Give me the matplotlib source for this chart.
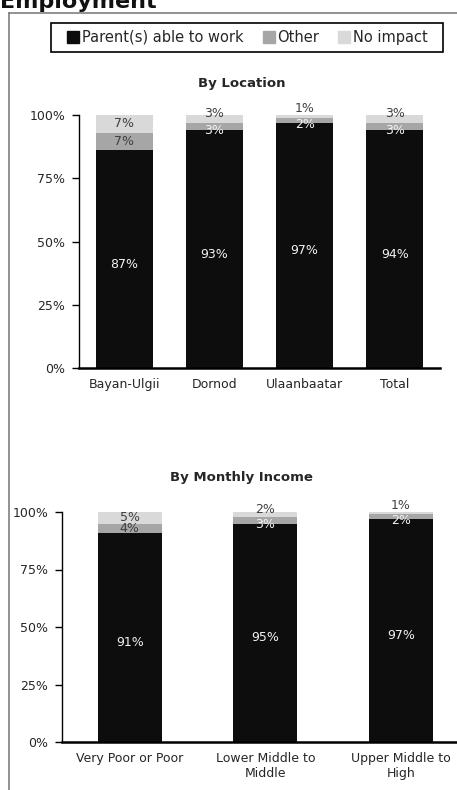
import numpy as np
import matplotlib
matplotlib.use("Agg")
import matplotlib.pyplot as plt
from matplotlib.lines import Line2D
from matplotlib.patches import Rectangle

plt.rcParams['font.family'] = ['DejaVu Sans']

# data (as printed in the chart; bars are drawn as 100% stacked)
loc_cats = ['Bayan-Ulgii', 'Dornod', 'Ulaanbaatar', 'Total']
loc_work = [87, 93, 97, 94]
loc_other = [7, 3, 2, 3]
loc_none = [7, 3, 1, 3]

inc_cats = ['Very Poor or Poor', 'Lower Middle to\nMiddle', 'Upper Middle to\nHigh']
inc_work = [91, 95, 97]
inc_other = [4, 3, 2]
inc_none = [5, 2, 1]

series_names = ['Parent(s) able to work', 'Other', 'No impact']
colors = ['#0d0d0d', '#a6a6a6', '#d9d9d9']
W, H = 457, 790


def stacked(ax, cats, work, other, none, width):
    x = np.arange(len(cats))
    vals = np.array([work, other, none], dtype=float)
    share = vals / vals.sum(axis=0)
    bottom = np.zeros(len(cats))
    for i in range(3):
        ax.bar(x, share[i], width, bottom=bottom, color=colors[i], linewidth=0)
        for j in range(len(cats)):
            v = vals[i, j]
            yc = bottom[j] + share[i, j] / 2
            # small segments: labels pushed apart like Excel does
            if i == 0:
                c, off = '#f2f2f2', -5
            elif i == 1:
                c = '#404040' if v >= 4 else '#f2f2f2'
                off = -4 if v < 4 else 0
            else:
                c = '#404040'
                off = 0 if v >= 4 else (5 if v > 1 else 8)
            ax.annotate('%d%%' % v, (x[j], yc), xytext=(0, off), textcoords='offset pixels',
                        ha='center', va='center', fontsize=9, color=c)
        bottom += share[i]
    ax.set_ylim(0, 1)
    ax.set_xlim(-0.5, len(cats) - 0.5)
    ax.set_yticks([0, 0.25, 0.5, 0.75, 1.0])
    ax.set_yticklabels(['0%', '25%', '50%', '75%', '100%'], fontsize=9, color='#262626')
    ax.set_xticks(x)
    ax.set_xticklabels(cats, fontsize=9, color='#262626')
    ax.tick_params(axis='x', length=0, pad=7)
    ax.tick_params(axis='y', length=5, width=1, pad=5, direction='out')
    for s in ['top', 'right']:
        ax.spines[s].set_visible(False)
    ax.spines['left'].set_linewidth(1.0)
    ax.spines['bottom'].set_linewidth(1.8)


fig = plt.figure(figsize=(W / 100, H / 100), dpi=100)

ax1 = fig.add_axes([79 / W, 1 - 368 / H, 361 / W, 253 / H])
stacked(ax1, loc_cats, loc_work, loc_other, loc_none, 57 / 90)

ax2 = fig.add_axes([62 / W, 1 - 742 / H, 406.5 / W, 230 / H])
stacked(ax2, inc_cats, inc_work, inc_other, inc_none, 64 / 135)

fig.text(0.529, 1 - 84 / H, 'By Location', ha='center', va='center',
         fontsize=9.5, fontweight='bold', color='#262626')
fig.text(0.529, 1 - 478 / H, 'By Monthly Income', ha='center', va='center',
         fontsize=9.5, fontweight='bold', color='#262626')

# page title, cut off at the top like the source
fig.text(0.0, 1 - 8 / H, 'Employment', ha='left', va='baseline',
         fontsize=16, fontweight='bold', color='#111111')

# outer frame
fig.add_artist(Line2D([9 / W, 9 / W], [0, 1 - 13 / H], color='#7f7f7f', lw=1.2,
                      transform=fig.transFigure))
fig.add_artist(Line2D([9 / W, 1], [1 - 13 / H, 1 - 13 / H], color='#7f7f7f', lw=1.2,
                      transform=fig.transFigure))

handles = [Line2D([], [], marker='s', linestyle='', markersize=8,
                  markerfacecolor=c, markeredgecolor=c) for c in colors]
leg = fig.legend(handles, series_names, loc='center', bbox_to_anchor=(247.5 / W, 1 - 37.5 / H),
                 ncol=3, fontsize=10.5, frameon=False,
                 handletextpad=0.2, columnspacing=1.3, handlelength=0.8)
for t in leg.get_texts():
    t.set_color('#262626')
fig.add_artist(Rectangle((51 / W, 1 - 52 / H), 392 / W, 29 / H, transform=fig.transFigure,
                         fill=False, edgecolor='black', linewidth=1.2))

fig.savefig('out.png', dpi=100)
